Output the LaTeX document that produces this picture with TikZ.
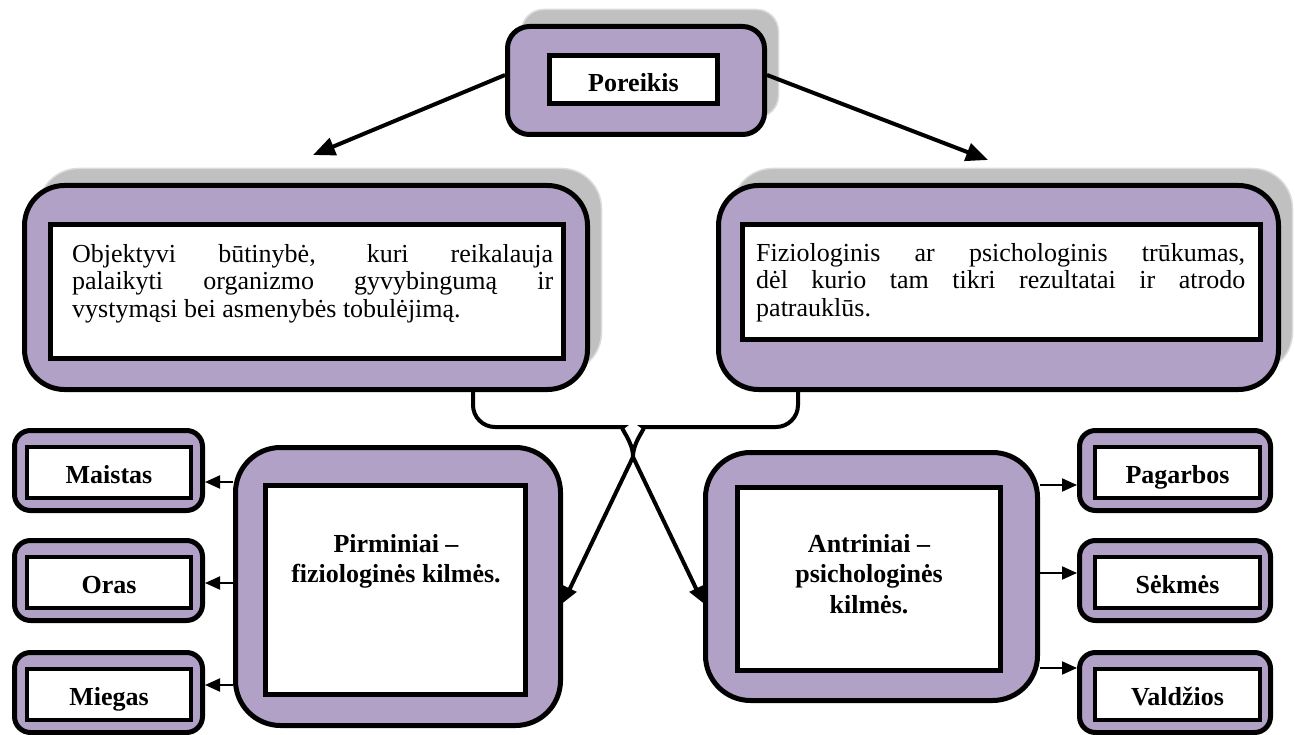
\documentclass[tikz,border=0pt]{standalone}
\usepackage{fontspec}
\setmainfont{Liberation Serif}
\usetikzlibrary{arrows.meta,shadows,calc}
\definecolor{lav}{HTML}{B2A1C7}
\definecolor{shd}{HTML}{C0C0C0}
\definecolor{shdl}{HTML}{DCDCDC}
\begin{document}
\begin{tikzpicture}[x=1pt,y=-1pt,
  outerbox/.style={draw=black, line width=5pt, fill=lav, inner sep=0pt},
  innerbox/.style={draw=black, line width=5pt, fill=white, inner sep=0pt},
  smallout/.style={outerbox, rounded corners=16pt, minimum height=80pt},
  smallin/.style={innerbox, line width=4.5pt, minimum height=51pt, text height=22pt, text depth=0pt,
    font=\fontsize{26}{30}\selectfont\bfseries},
  shadowed/.style={general shadow={fill=shd, draw=shdl, line width=1.5pt, shadow xshift=14pt, shadow yshift=17pt}},
  body/.style={inner sep=0pt, align=justify, anchor=north west, font=\fontsize{26}{27.5}\selectfont},
  boldtxt/.style={inner sep=0pt, align=center, anchor=north, font=\fontsize{26}{30.5}\selectfont\bfseries},
  toparrow/.style={line width=4pt, -{Triangle[length=22pt,width=18pt]}},
  xarrow/.style={line width=4pt, -{Triangle[length=16pt,width=14pt]}},
  sarrow/.style={line width=2pt, -{Triangle[length=15pt,width=13pt]}}
]
\useasboundingbox (0,0) rectangle (1295,735);

% top node
\node[outerbox, shadowed, rounded corners=22pt, minimum width=257pt, minimum height=108pt] (por) at (636,80.5) {};
\node[innerbox, minimum width=168pt, minimum height=48pt, text height=25pt, text depth=0pt,
  font=\fontsize{26}{30}\selectfont\bfseries] (porin) at (633.5,79.5) {Poreikis};

% big boxes
\node[outerbox, shadowed, rounded corners=40pt, minimum width=563pt, minimum height=204pt] (lbig) at (306,287.5) {};
\node[innerbox, minimum width=513pt, minimum height=134pt] (lbigin) at (307,291.5) {};
\node[body, text width=481pt] (ltxt) at (72,244) {\tolerance=10000\hyphenpenalty=10000\relax Objektyvi būtinybė, kuri reikalauja\linebreak palaikyti organizmo gyvybingumą ir\linebreak vystymąsi bei asmenybės tobulėjimą.};

\node[outerbox, shadowed, rounded corners=40pt, minimum width=560pt, minimum height=204pt] (rbig) at (998.5,287.5) {};
\node[innerbox, minimum width=518pt, minimum height=115pt] (rbigin) at (1001.5,282) {};
\node[body, text width=489pt] (rtxt) at (756,243) {\tolerance=10000\hyphenpenalty=10000\relax Fiziologinis ar psichologinis trūkumas,\linebreak dėl kurio tam tikri rezultatai ir atrodo\linebreak patrauklūs.};

% middle boxes
\node[outerbox, rounded corners=45pt, minimum width=325pt, minimum height=278pt] (pir) at (398,586.5) {};
\node[innerbox, minimum width=260pt, minimum height=209pt] (pirin) at (395.5,590) {};
\node[boldtxt] (pirt) at (396,534) {Pirminiai –\\fiziologinės kilmės.};

\node[outerbox, rounded corners=45pt, minimum width=332pt, minimum height=248pt] (antr) at (871.5,576.5) {};
\node[innerbox, minimum width=263pt, minimum height=183pt] (antrin) at (869,579) {};
\node[boldtxt] (antt) at (869,534) {Antriniai –\\psichologinės\\kilmės.};

% small boxes left
\node[smallout, minimum width=188pt] (mai) at (108.5,470.5) {};
\node[smallin, minimum width=164pt] (maiin) at (109,472.5) {Maistas};
\node[smallout, minimum width=188pt] (ora) at (108.5,580.5) {};
\node[smallin, minimum width=164pt] (orain) at (109,582.5) {Oras};
\node[smallout, minimum width=188pt] (mie) at (108.5,692.5) {};
\node[smallin, minimum width=164pt] (miein) at (109,694.5) {Miegas};

% small boxes right
\node[smallout, minimum width=191pt] (pag) at (1175,470.5) {};
\node[smallin, minimum width=165pt] (pagin) at (1177.5,472.5) {Pagarbos};
\node[smallout, minimum width=191pt] (sek) at (1175,580.5) {};
\node[smallin, minimum width=165pt] (sekin) at (1177.5,582.5) {Sėkmės};
\node[smallout, minimum width=191pt] (val) at (1175,692.5) {};
\node[smallin, minimum width=165pt] (valin) at (1177.5,694.5) {Valdžios};

% top arrows
\coordinate (tl) at (313,155);
\coordinate (tr) at (988,160);
\draw[toparrow] ([yshift=5.5pt]por.west) -- (tl);
\draw[toparrow] ([yshift=5.5pt]por.east) -- (tr);

% crossing connectors
\coordinate (cx) at (633,457);
\coordinate (hy) at (0,427);
\draw[xarrow] ([xshift=167pt]lbig.south) [rounded corners=22pt] |- ($(cx |- hy)+(-32,0)$) [sharp corners]
  .. controls ($(cx |- hy)+(-14.3,0)$) and ($(cx)+(0,-16.6)$) .. (cx) -- ([yshift=-26.5pt]antr.west);
\draw[xarrow] ([xshift=-200.5pt]rbig.south) [rounded corners=22pt] |- ($(cx |- hy)+(32,0)$) [sharp corners]
  .. controls ($(cx |- hy)+(14.3,0)$) and ($(cx)+(0,-16.6)$) .. (cx) -- ([yshift=-16.5pt]pir.east);

% small arrows
\coordinate (p1) at ([yshift=104.5pt]pir.west);
\coordinate (p2) at ([yshift=3.5pt]pir.west);
\coordinate (p3) at ([yshift=-98.5pt]pir.west);
\draw[sarrow] (p1) -- (p1 -| mai.east);
\draw[sarrow] (p2) -- (p2 -| ora.east);
\draw[sarrow] (p3) -- (p3 -| mie.east);
\coordinate (q1) at ([yshift=91.5pt]antr.east);
\coordinate (q2) at ([yshift=3.5pt]antr.east);
\coordinate (q3) at ([yshift=-91.5pt]antr.east);
\draw[sarrow] (q1) -- (q1 -| pag.west);
\draw[sarrow] (q2) -- (q2 -| sek.west);
\draw[sarrow] (q3) -- (q3 -| val.west);
\end{tikzpicture}
\end{document}
